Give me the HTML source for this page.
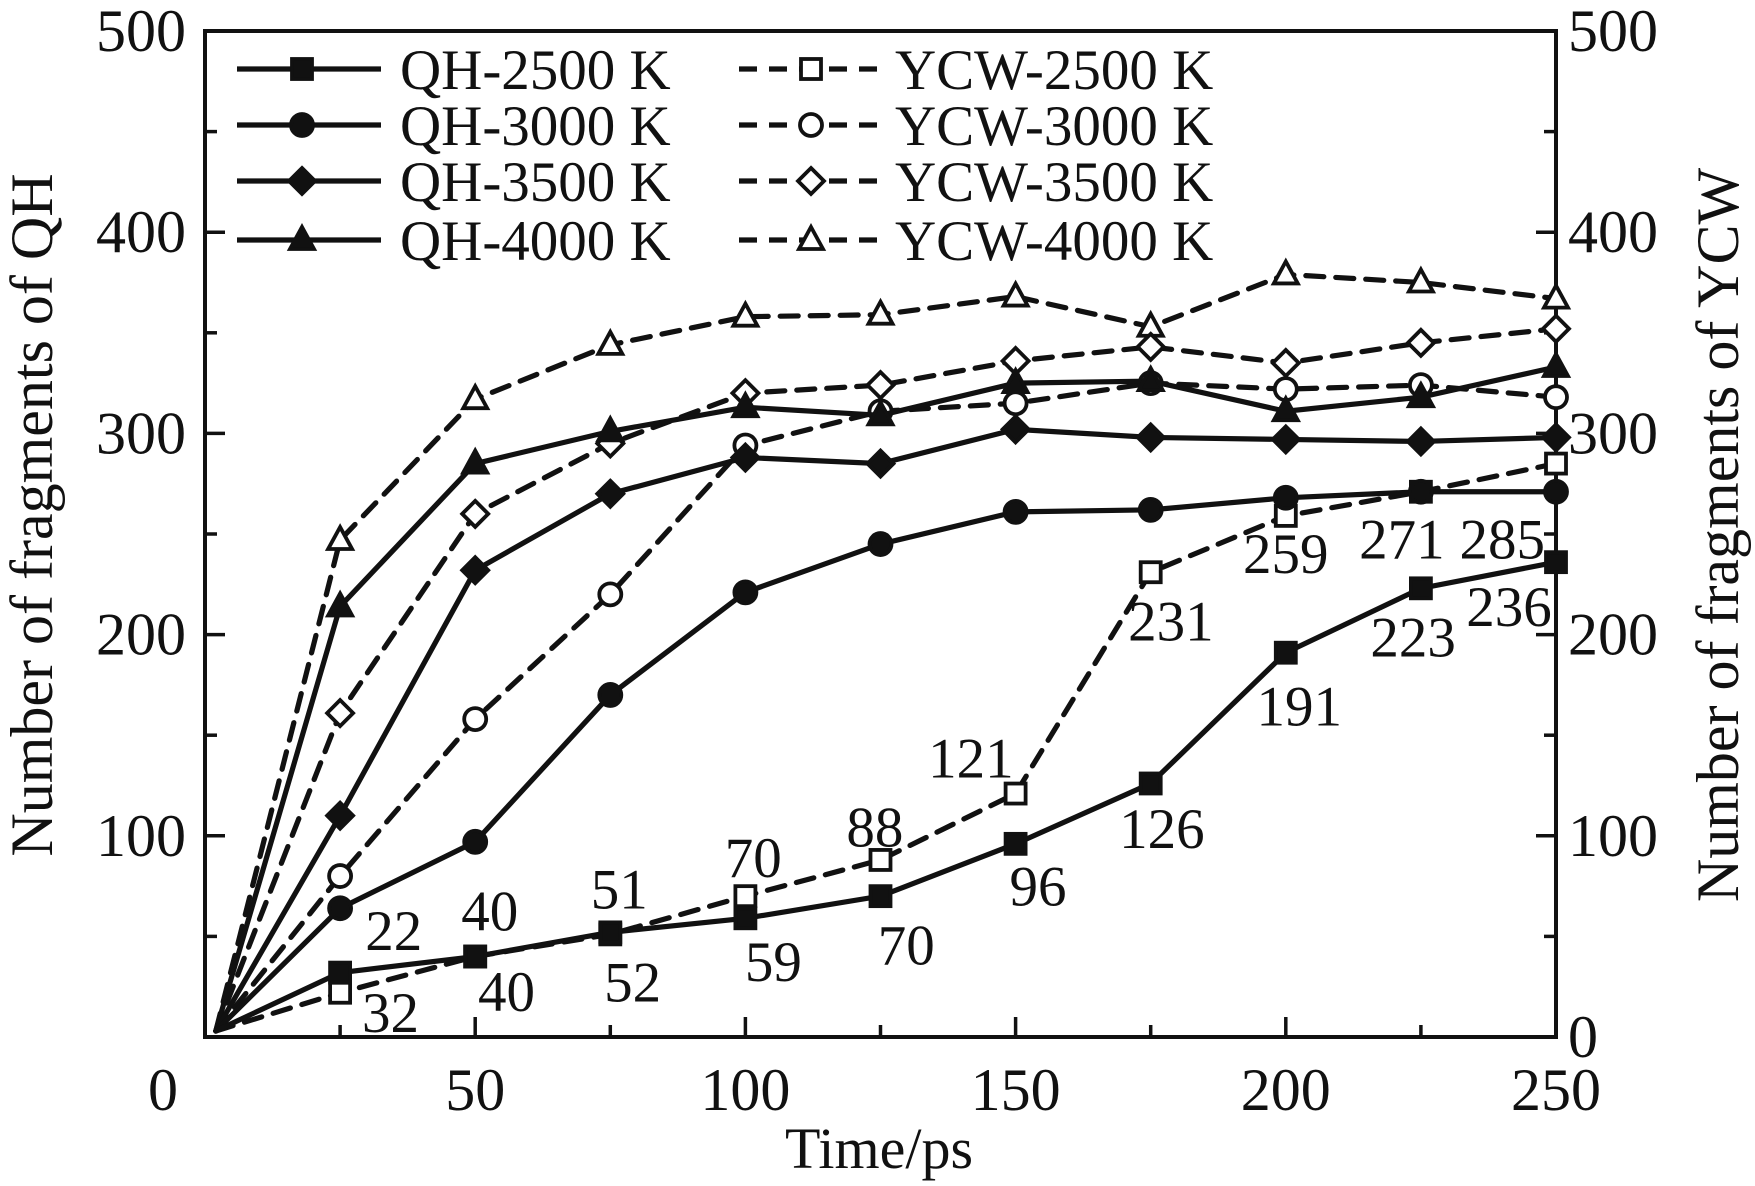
<!DOCTYPE html>
<html><head><meta charset="utf-8"><style>
html,body{margin:0;padding:0;background:#fff;}
svg{display:block;font-family:"Liberation Serif",serif;}
</style></head><body>
<svg id="chart" width="1755" height="1186" viewBox="0 0 1755 1186"></svg>
<script>
const times = [2,25,50,75,100,125,150,175,200,225,250];
const qh2500 = [3,32,40,52,59,70,96,126,191,223,236];
const ycw2500 = [3,22,40,51,70,88,121,231,259,271,285];
const qh3000 = [3,64,97,170,221,245,261,262,268,271,271];
const ycw3000 = [3,80,158,220,294,311,315,325,322,324,318];
const qh3500 = [3,110,232,270,288,285,302,298,297,296,298];
const ycw3500 = [3,161,260,295,320,324,336,343,335,345,352];
const qh4000 = [3,214,285,301,313,309,325,326,311,318,333];
const ycw4000 = [3,247,317,344,358,359,368,353,379,375,367];
const xTicks = [0,50,100,150,200,250];
const yTicks = [0,100,200,300,400,500];
const ycwLabels = ["","22","40","51","70","88","121","231","259","271","285"];
const qhLabels = ["","32","40","52","59","70","96","126","191","223","236"];

const NS="http://www.w3.org/2000/svg";
const svg=document.getElementById('chart');
const L=205,R=1556,T=31,B=1037;
const xs=v=>L+(v/250)*(R-L);
const ys=v=>B-(v/500)*(B-T);
function mk(tag,attrs,parent){const e=document.createElementNS(NS,tag);for(const k in attrs)e.setAttribute(k,attrs[k]);(parent||svg).appendChild(e);return e;}
const S=1.119;

const frame=mk('rect',{x:L,y:T,width:R-L,height:B-T,fill:'none',stroke:'#111','stroke-width':4});



for(let v=0;v<=250;v+=25){
  const len=(v%50===0)?20:12;
  const t1=mk('line',{x1:xs(v),x2:xs(v),y1:B,y2:B-len,stroke:'#111','stroke-width':3.5});
  
  
}
for(let v=0;v<=500;v+=50){
  const len=(v%100===0)?20:12;
  const a=mk('line',{x1:L,x2:L+len,y1:ys(v),y2:ys(v),stroke:'#111','stroke-width':3.5});
  
  
  const b=mk('line',{x1:R,x2:R-len,y1:ys(v),y2:ys(v),stroke:'#111','stroke-width':3.5});
  
  
}
xTicks.forEach(v=>{
  const t=mk('text',{x:xs(v)-(v===0?42:0),y:1110,'font-size':60,'text-anchor':'middle',fill:'#111'});
  t.textContent=v;
  
  
});
yTicks.forEach(v=>{
  if(v>0){
    const t=mk('text',{x:186,y:ys(v)+20,'font-size':60,'text-anchor':'end',fill:'#111'});
    t.textContent=v;
    
    
  }
  const t2=mk('text',{x:1568,y:ys(v)+20,'font-size':60,'text-anchor':'start',fill:'#111'});
  t2.textContent=v;
  
  
});
const xt=mk('text',{x:879,y:1168,'font-size':58,'text-anchor':'middle',fill:'#111'});xt.textContent='Time/ps';


const yl=mk('text',{x:0,y:0,'font-size':60,'text-anchor':'middle',fill:'#111',transform:'translate(52,515) rotate(-90)'});yl.textContent='Number of fragments of QH';


const yr=mk('text',{x:0,y:0,'font-size':60,'text-anchor':'middle',fill:'#111',transform:'translate(1738,535) rotate(-90)'});yr.textContent='Number of fragments of YCW';



function marker(shape,cx,cy,filled,g){
  const fill=filled?'#111':'#fff';const sw=3.8;
  if(shape==='square') return mk('rect',{x:cx-10,y:cy-10,width:20,height:20,fill,stroke:'#111','stroke-width':sw},g);
  if(shape==='circle') return mk('circle',{cx,cy,r:11,fill,stroke:'#111','stroke-width':sw},g);
  if(shape==='diamond') return mk('polygon',{points:`${cx},${cy-13} ${cx+13},${cy} ${cx},${cy+13} ${cx-13},${cy}`,fill,stroke:'#111','stroke-width':sw},g);
  return mk('polygon',{points:`${cx},${cy-13} ${cx+12},${cy+9} ${cx-12},${cy+9}`,fill,stroke:'#111','stroke-width':sw},g);
}
const series=[
 {name:'ycw-4000',d:ycw4000,s:'triangle',f:false,dash:true},
 {name:'ycw-3500',d:ycw3500,s:'diamond',f:false,dash:true},
 {name:'ycw-3000',d:ycw3000,s:'circle',f:false,dash:true},
 {name:'ycw-2500',d:ycw2500,s:'square',f:false,dash:true},
 {name:'qh-4000',d:qh4000,s:'triangle',f:true,dash:false},
 {name:'qh-3500',d:qh3500,s:'diamond',f:true,dash:false},
 {name:'qh-3000',d:qh3000,s:'circle',f:true,dash:false},
 {name:'qh-2500',d:qh2500,s:'square',f:true,dash:false},
];
series.forEach(sr=>{
  const g=mk('g',{});
  
  
  const pts=sr.d.map((v,i)=>xs(times[i])+','+ys(v)).join(' ');
  const pl=mk('polyline',{points:pts,fill:'none',stroke:'#111','stroke-width':5.2,'stroke-linecap':'round','stroke-dasharray':sr.dash?'18 12':'none'},g);
  
  
  sr.d.forEach((v,i)=>{
    if(i===0)return;
    const m=marker(sr.s,xs(times[i]),ys(v),sr.f,g);
    
    
  });
});
const ycwOff=[[0,0],[48,-56],[13,-41],[8,-41],[7,-35],[-5,-30],[-40,-32],[18,43],[0,33],[-17,42],[-48,67]];
const qhOff=[[0,0],[45,35],[28,31],[20,44],[25,38],[23,43],[20,37],[10,40],[12,47],[-7,43],[-42,39]];
function labels(arr,off,data,nm){
  arr.forEach((s,i)=>{
    if(!s)return;
    const t=mk('text',{x:xs(times[i])+off[i][0]*S,y:ys(data[i])+off[i][1]*S+20,'font-size':57,'text-anchor':'middle',fill:'#111'});
    t.textContent=s;
    
    
  });
}
labels(ycwLabels,ycwOff,ycw2500,'ycw-2500-value-label');
labels(qhLabels,qhOff,qh2500,'qh-2500-value-label');

const leg=mk('g',{});


const legRows=[69,125,181,240];
const shapes=['square','circle','diamond','triangle'];
const temps=['2500','3000','3500','4000'];
shapes.forEach((s,i)=>{
  const y=legRows[i];
  const e1=mk('g',{},leg);
  
  
  mk('line',{x1:237,x2:381,y1:y,y2:y,stroke:'#111','stroke-width':5.2},e1);
  marker(s,302,y,true,e1);
  const t1=mk('text',{x:400,y:y+20,'font-size':57,fill:'#111'},e1);t1.textContent='QH-'+temps[i]+' K';
  const e2=mk('g',{},leg);
  
  
  mk('line',{x1:739,x2:884,y1:y,y2:y,stroke:'#111','stroke-width':5.2,'stroke-dasharray':'18 12'},e2);
  marker(s,811,y,false,e2);
  const t2=mk('text',{x:895,y:y+20,'font-size':57,fill:'#111'},e2);t2.textContent='YCW-'+temps[i]+' K';
});
</script>
</body></html>
